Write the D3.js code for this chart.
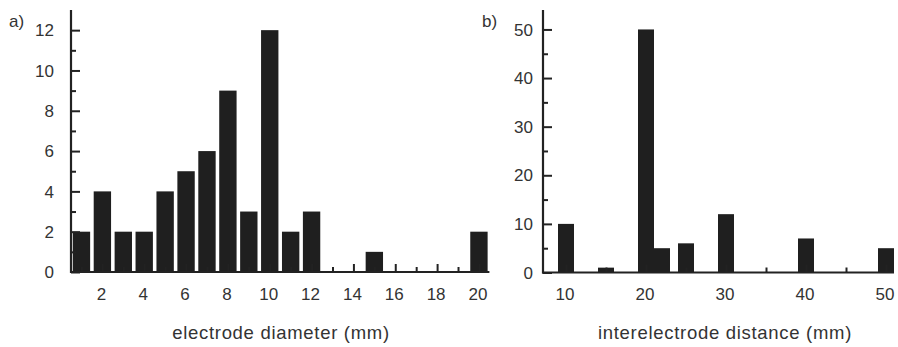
<!DOCTYPE html>
<html><head><meta charset="utf-8">
<script src="https://cdn.jsdelivr.net/npm/d3@7"></script>
<style>
body{margin:0;background:#fff;}
text{font-family:"Liberation Sans",Arial,Helvetica,sans-serif;fill:#333;}
</style></head>
<body><svg id="chart" width="898" height="347"></svg>
<script>
// Panel a data
const diameters = [1,2,3,4,5,6,7,8,9,10,11,12,13,14,15,16,17,18,19,20];
const diameterCounts = [2,4,2,2,4,5,6,9,3,12,2,3,0,0,1,0,0,0,0,2];
const aYTicks = [0,2,4,6,8,10,12];
const aXTicks = [2,4,6,8,10,12,14,16,18,20];
// Panel b data
const distances = [10,15,20,22,25,30,40,50];
const distanceCounts = [10,1,50,5,6,12,7,5];
const bYTicks = [0,10,20,30,40,50];
const bXTicks = [10,20,30,40,50];

const svg = d3.select("#chart");
const barColor = "#1f1f1f";
const axisColor = "#222";
const tickFs = 17;
const titleFs = 18.5;

function drawPanel(o){
  const g = svg.append("g");
  const x = d3.scaleLinear().domain(o.xDomain).range([o.left, o.right]);
  const y = d3.scaleLinear().domain(o.yDomain).range([o.bottom, o.top]);
  // bars
  g.selectAll("rect.bar").data(o.cats.map((c,i)=>({c, v:o.vals[i]})).filter(d=>d.v>0))
    .enter().append("rect")
    .attr("x", d=>x(d.c - o.bw/2))
    .attr("width", d=>x(d.c + o.bw/2) - x(d.c - o.bw/2))
    .attr("y", d=>y(d.v))
    .attr("height", d=>y(0)-y(d.v))
    .attr("fill", barColor);
  // y axis
  const yAxis = d3.axisRight(y).tickValues(o.yMinor).tickSize(5).tickFormat("");
  const yAxisMaj = d3.axisRight(y).tickValues(o.yTicks).tickSize(9).tickFormat("");
  [yAxis, yAxisMaj].forEach(ax=>{
    const a = g.append("g").attr("transform",`translate(${o.left},0)`).call(ax);
    a.select(".domain").remove();
    a.selectAll("line").attr("stroke",axisColor).attr("stroke-width",2);
  });
  g.append("line").attr("x1",o.left).attr("x2",o.left).attr("y1",y(o.yDomain[1])).attr("y2",y(0)+1)
    .attr("stroke",axisColor).attr("stroke-width",2.2);
  g.selectAll("text.yl").data(o.yTicks).enter().append("text")
    .attr("x", o.left-o.yLabelGap).attr("y", d=>y(d)).attr("dy","0.36em")
    .attr("text-anchor","end").attr("font-size",tickFs).text(d=>d);
  // x axis
  const xMinor = d3.axisTop(x).tickValues(o.xMinor).tickSize(5).tickFormat("");
  const xMaj = d3.axisTop(x).tickValues(o.xTicks).tickSize(8).tickFormat("");
  [xMinor, xMaj].forEach(ax=>{
    const a = g.append("g").attr("transform",`translate(0,${o.bottom})`).call(ax);
    a.select(".domain").remove();
    a.selectAll("line").attr("stroke",axisColor).attr("stroke-width",2);
  });
  g.append("line").attr("x1",o.left-1).attr("x2",o.right).attr("y1",o.bottom).attr("y2",o.bottom)
    .attr("stroke",axisColor).attr("stroke-width",2.2);
  g.selectAll("text.xl").data(o.xTicks).enter().append("text")
    .attr("x", d=>x(d)-1).attr("y", 300)
    .attr("text-anchor","middle").attr("font-size",tickFs).text(d=>d);
  g.append("text").attr("x",o.titleX).attr("y",339).attr("text-anchor","middle")
    .attr("font-size",titleFs).attr("letter-spacing","0.7px").text(o.title);
  g.append("text").attr("x",o.tagX).attr("y",27).attr("font-size",17).text(o.tag);
}

drawPanel({
  cats: diameters, vals: diameterCounts, bw: 0.83,
  xDomain:[0.5,20.5], left:71, right:489.4,
  yDomain:[0,13], top:10, bottom:272,
  yTicks:aYTicks, yMinor:[1,3,5,7,9,11], yLabelGap:17,
  xTicks:aXTicks, xMinor:[1,3,5,7,9,11,13,15,17,19],
  title:"electrode diameter (mm)", titleX:281, tag:"a)", tagX:9
});
drawPanel({
  cats: distances, vals: distanceCounts, bw: 2,
  xDomain:[7.125,51], left:543, right:894,
  yDomain:[0,54], top:10, bottom:272.5,
  yTicks:bYTicks, yMinor:[5,15,25,35,45], yLabelGap:10,
  xTicks:bXTicks, xMinor:[15,25,35,45],
  title:"interelectrode distance (mm)", titleX:725, tag:"b)", tagX:482
});
</script></body></html>
